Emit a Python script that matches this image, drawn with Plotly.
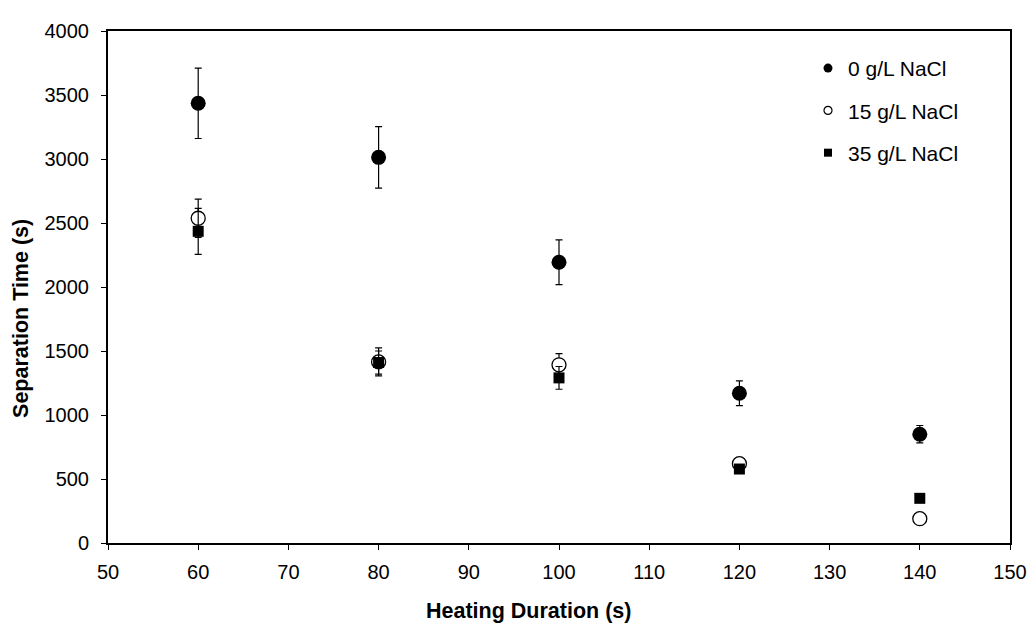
import plotly.graph_objects as go

heating = [60, 80, 100, 120, 140]

sep_0 = [3435, 3013, 2193, 1170, 850]
err_0 = [275, 240, 175, 97, 68]

sep_15 = [2537, 1415, 1392, 620, 190]
err_15 = [150, 110, 87, 20, 15]

sep_35 = [2435, 1410, 1290, 578, 349]
err_35 = [180, 90, 89, 20, 15]

names = ["0 g/L NaCl", "15 g/L NaCl", "35 g/L NaCl"]

FONT = "Liberation Sans, Arial, sans-serif"

fig = go.Figure()

def err(vals):
    return dict(type="data", array=vals, visible=True, color="black",
                thickness=1.2, width=3.5)

fig.add_trace(go.Scatter(
    x=heating, y=sep_0, mode="markers", name=names[0], showlegend=False,
    marker=dict(symbol="circle", size=15, color="black", line=dict(width=0)),
    error_y=err(err_0)))
fig.add_trace(go.Scatter(
    x=heating, y=sep_15, mode="markers", name=names[1], showlegend=False,
    marker=dict(symbol="circle", size=14, color="white", line=dict(width=1.3, color="black")),
    error_y=err(err_15)))
fig.add_trace(go.Scatter(
    x=heating, y=sep_35, mode="markers", name=names[2], showlegend=False,
    marker=dict(symbol="square", size=11, color="black", line=dict(width=0)),
    error_y=err(err_35)))

# legend entries (small symbols as in the reference)
leg_markers = [
    dict(symbol="circle", size=9, color="black", line=dict(width=0)),
    dict(symbol="circle", size=8, color="white", line=dict(width=1.2, color="black")),
    dict(symbol="square", size=8, color="black", line=dict(width=0)),
]
for i, (nm, mk) in enumerate(zip(names, leg_markers)):
    fig.add_trace(go.Scatter(x=[None], y=[None], mode="markers", name=nm,
                             legendgroup=f"g{i}", marker=mk, showlegend=True))

axis_common = dict(
    showline=True, linecolor="black", linewidth=2, mirror=True,
    ticks="outside", ticklen=5, tickwidth=1.2, tickcolor="black",
    showgrid=False, zeroline=False,
    tickfont=dict(family=FONT, size=20, color="black"),
)

fig.update_xaxes(range=[50, 150], dtick=10, tick0=50, ticklabelstandoff=5, **axis_common)
fig.update_yaxes(range=[0, 4000], dtick=500, tick0=0, ticklabelstandoff=8, **axis_common)

PW, PH = 902, 523.3
fig.add_annotation(text="<b>Heating Duration (s)</b>", xref="paper", yref="paper",
                   x=(528 - 108) / PW, y=-(612 - 543) / PH, showarrow=False,
                   font=dict(family=FONT, size=21.5, color="black"),
                   xanchor="center", yanchor="middle")
fig.add_annotation(text="<b>Separation Time (s)</b>", xref="paper", yref="paper",
                   x=-(108 - 21) / PW, y=(543 - 314) / PH, showarrow=False,
                   textangle=-90,
                   font=dict(family=FONT, size=21.5, color="black"),
                   xanchor="center", yanchor="middle")

fig.update_layout(
    width=1035, height=630,
    margin=dict(l=100, r=33, t=12, b=95),
    paper_bgcolor="white", plot_bgcolor="white",
    font=dict(family=FONT, size=20, color="black"),
    legend=dict(x=(808 - 108) / PW, y=(543 - 37) / PH, xanchor="left", yanchor="top",
                bgcolor="rgba(0,0,0,0)", borderwidth=0, tracegroupgap=12,
                itemwidth=30, font=dict(family=FONT, size=21, color="black"),
                traceorder="grouped"),
)

fig.write_html("out.html")
